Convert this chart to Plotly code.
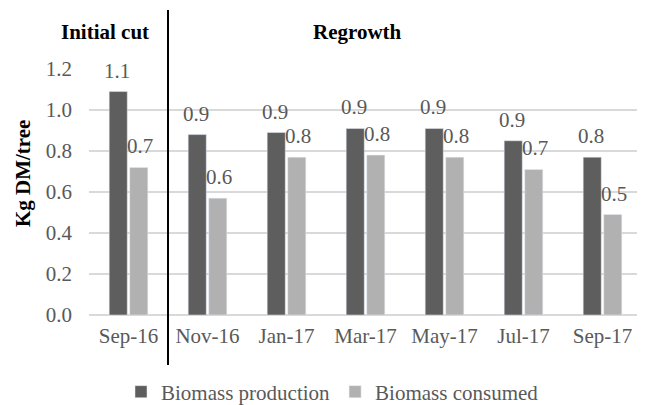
import plotly.graph_objects as go

categories = ["Sep-16", "Nov-16", "Jan-17", "Mar-17", "May-17", "Jul-17", "Sep-17"]
production = [1.09, 0.88, 0.89, 0.91, 0.91, 0.85, 0.77]
consumed = [0.72, 0.57, 0.77, 0.78, 0.77, 0.71, 0.49]
y_ticks = [0.0, 0.2, 0.4, 0.6, 0.8, 1.0, 1.2]

dark = "#5e5e5e"
light = "#b1b1b1"
font_family = "'Times New Roman', 'Liberation Serif', 'DejaVu Serif', serif"
label_color = "#595959"

# page offset (body margin 8px) compensation
OX, OY = 8, 8
W, H = 645 - OX, 405 - OY
L, R, T, B = 89 - OX, 642.5 - OX, 69 - OY, 315 - OY
PW, PH = R - L, B - T


def px(xr):
    return (xr - OX - L) / PW


def py(yr):
    return (B - (yr - OY)) / PH


def fmt(v):
    return f"{v + 1e-9:.1f}"


fig = go.Figure()
fig.add_trace(go.Bar(x=categories, y=production, name="Biomass production",
                     marker_color=dark))
fig.add_trace(go.Bar(x=categories, y=consumed, name="Biomass consumed",
                     marker_color=light))

annotations = []
for cat, p, c in zip(categories, production, consumed):
    annotations.append(dict(x=cat, y=p, xref="x", yref="y", text=fmt(p),
                            showarrow=False, xshift=-11.5, yshift=21,
                            xanchor="center", yanchor="middle",
                            font=dict(family=font_family, size=21, color=label_color)))
    annotations.append(dict(x=cat, y=c, xref="x", yref="y", text=fmt(c),
                            showarrow=False, xshift=11.5, yshift=21,
                            xanchor="center", yanchor="middle",
                            font=dict(family=font_family, size=21, color=label_color)))

head = dict(xref="paper", yref="paper", showarrow=False, xanchor="center", yanchor="middle",
            font=dict(family=font_family, size=21, color="black"))
annotations.append(dict(head, x=px(105), y=py(32), text="<b>Initial cut</b>"))
annotations.append(dict(head, x=px(358), y=py(32), text="<b>Regrowth</b>"))
annotations.append(dict(head, x=px(23), y=py(174), text="<b>Kg DM/tree</b>", textangle=-90))

fig.update_layout(
    width=W, height=H,
    margin=dict(l=L, r=W - R, t=T, b=H - B, autoexpand=False),
    plot_bgcolor="white", paper_bgcolor="white",
    barmode="group", bargap=0.48, bargroupgap=0.12,
    font=dict(family=font_family, size=21, color=label_color),
    showlegend=True,
    legend=dict(orientation="h", xref="container", yref="container",
                x=(121 - OX) / W, xanchor="left",
                y=(H - (392 - OY)) / H, yanchor="middle",
                font=dict(family=font_family, size=21, color=label_color),
                itemwidth=30, traceorder="normal"),
    annotations=annotations,
    shapes=[dict(type="line", xref="x", yref="paper", x0=0.5, x1=0.5,
                 y0=py(365), y1=py(10),
                 line=dict(color="black", width=2))],
)
fig.update_xaxes(showline=False, ticks="", showgrid=False, ticklabelstandoff=6,
                 automargin=False,
                 tickfont=dict(family=font_family, size=21, color=label_color))
fig.update_yaxes(range=[0, 1.2], tickvals=y_ticks, tickformat=".1f",
                 showgrid=True, gridcolor="#d9d9d9", gridwidth=1.5,
                 zeroline=True, zerolinecolor="#d9d9d9", zerolinewidth=1.5,
                 ticks="", ticklabelstandoff=16, showline=False, automargin=False,
                 tickfont=dict(family=font_family, size=21, color=label_color))

fig.write_html("out.html")
